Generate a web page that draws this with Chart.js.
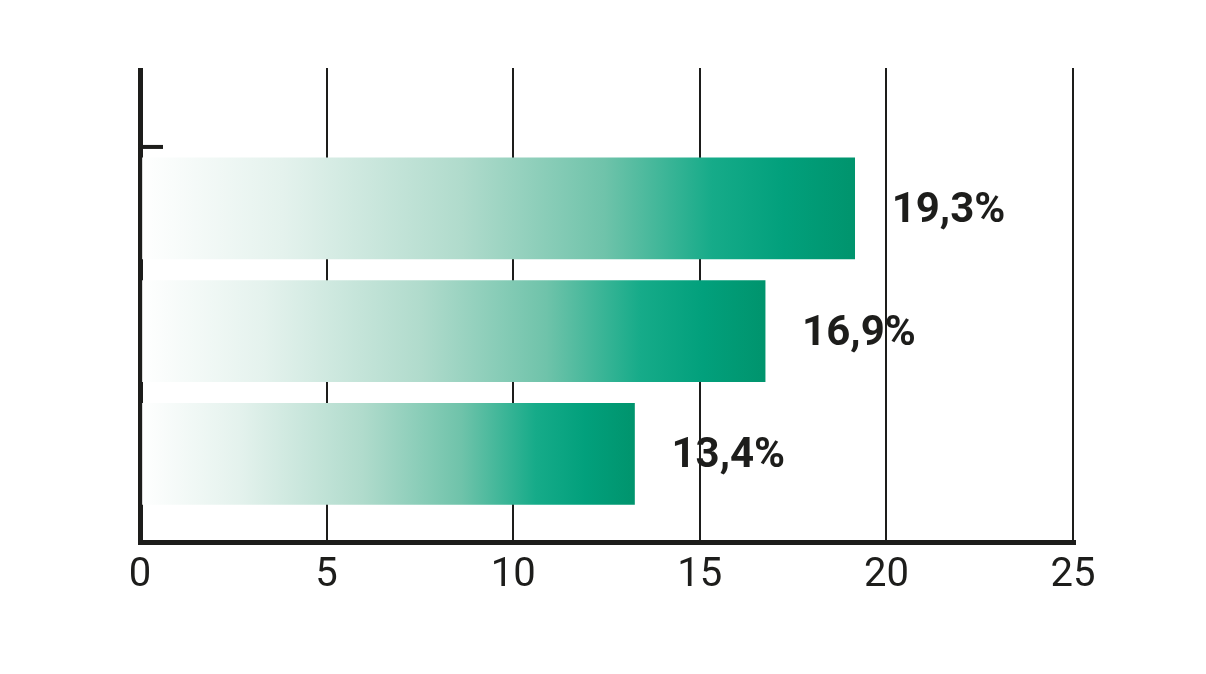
<!DOCTYPE html>
<html>
<head>
<meta charset="utf-8">
<script src="https://cdn.jsdelivr.net/npm/chart.js@4/dist/chart.umd.min.js"></script>
<style>
html,body{margin:0;padding:0;background:#fff;}
canvas{display:block;}
</style>
</head>
<body>
<canvas id="c" width="1206" height="674"></canvas>
<script>
// Data
const rows = [1, 2, 3];
const values = [19.15, 16.75, 13.25];
const valueLabels = ['19,3%', '16,9%', '13,4%'];
const xTicks = [0, 5, 10, 15, 20, 25];

const INK = '#1d1d1b';

function barGradient(c) {
  const chart = c.chart;
  const { ctx, chartArea, scales } = chart;
  if (!chartArea || !c.raw) return '#00946d';
  const x0 = scales.x.getPixelForValue(0);
  const x1 = scales.x.getPixelForValue(c.raw.x);
  const g = ctx.createLinearGradient(x0, 0, x1, 0);
  g.addColorStop(0, '#ffffff');
  g.addColorStop(0.2, '#e4f2ed');
  g.addColorStop(0.45, '#b0dbcc');
  g.addColorStop(0.65, '#6fc3aa');
  g.addColorStop(0.8, '#16ab89');
  g.addColorStop(0.9, '#02a07c');
  g.addColorStop(1, '#00946d');
  return g;
}

const extras = {
  id: 'extras',
  beforeDatasetsDraw(chart) {
    const { ctx, scales } = chart;
    const x0 = scales.x.getPixelForValue(0);
    const y = scales.y.getPixelForValue(0.5);
    ctx.save();
    ctx.fillStyle = INK;
    ctx.fillRect(x0 - 2, y - 2, 25, 4);
    ctx.restore();
  },
  afterDatasetsDraw(chart) {
    const { ctx } = chart;
    const meta = chart.getDatasetMeta(0);
    ctx.save();
    ctx.fillStyle = INK;
    ctx.font = 'bold 42px Roboto';
    ctx.textAlign = 'left';
    ctx.textBaseline = 'middle';
    meta.data.forEach((el, i) => {
      ctx.fillText(valueLabels[i], el.x + 37, el.y + 3);
    });
    ctx.restore();
  }
};

new Chart(document.getElementById('c'), {
  type: 'bar',
  data: {
    datasets: [{
      data: rows.map((r, i) => ({ x: values[i], y: r })),
      backgroundColor: barGradient,
      borderWidth: 0,
      barThickness: 101
    }]
  },
  options: {
    indexAxis: 'y',
    responsive: false,
    animation: false,
    devicePixelRatio: 1,
    layout: { padding: { left: 140, right: 133, top: 68, bottom: 64 } },
    plugins: { legend: { display: false }, tooltip: { enabled: false } },
    scales: {
      x: {
        type: 'linear',
        min: 0,
        max: 25,
        afterBuildTicks(axis) { axis.ticks = xTicks.map(v => ({ value: v })); },
        grid: {
          color: INK,
          lineWidth: c => (c.tick && c.tick.value === 0 ? 5 : 2),
          drawTicks: false
        },
        border: { display: true, color: INK, width: 5 },
        ticks: {
          color: INK,
          font: { family: 'Roboto', size: 40, weight: '400' },
          padding: 10,
          maxRotation: 0
        }
      },
      y: {
        type: 'linear',
        display: false,
        reverse: true,
        offset: false,
        min: -0.143,
        max: 3.718
      }
    }
  },
  plugins: [extras]
});
</script>
</body>
</html>
